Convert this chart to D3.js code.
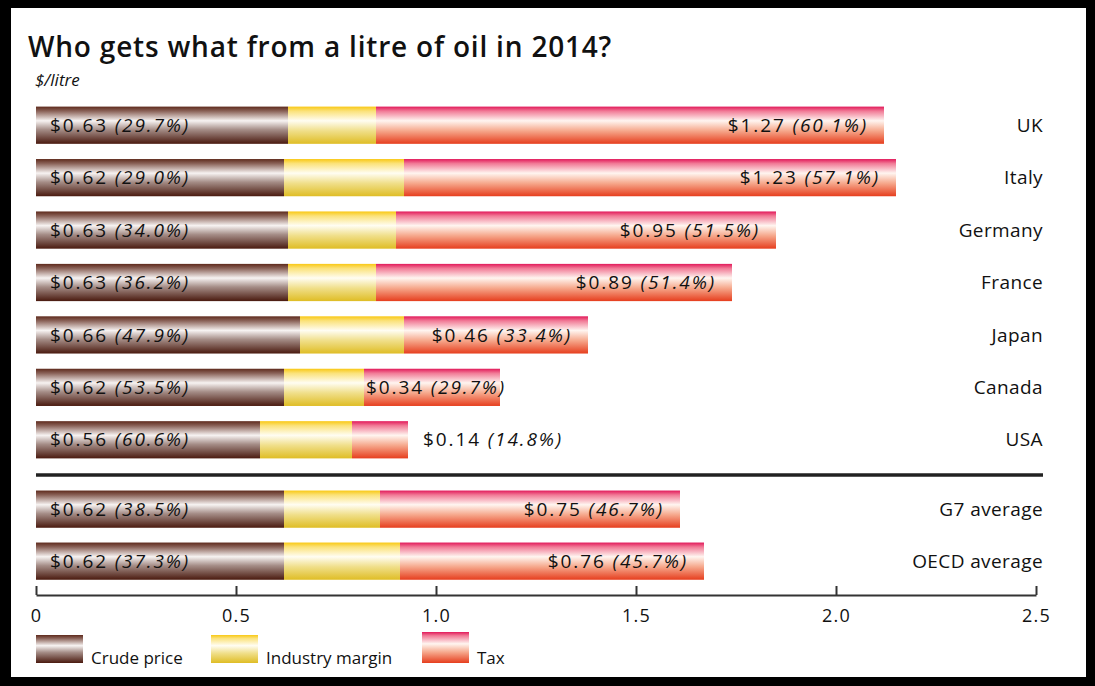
<!DOCTYPE html>
<html lang="en">
<head>
<meta charset="utf-8">
<title>Who gets what from a litre of oil in 2014?</title>
<script src="https://d3js.org/d3.v7.min.js"></script>
<style>
  body { margin: 0; background: #fff; }
  text { font-family: "Open Sans", sans-serif; fill: #111; }
  .title { font-size: 28px; font-weight: 600; letter-spacing: 0.8px; }
  .unit { font-size: 17px; font-style: italic; }
  .val { font-size: 19px; letter-spacing: 1.9px; }
  .country { font-size: 19px; letter-spacing: 0.4px; }
  .axis text { font-size: 18px; font-family: "Open Sans", sans-serif; fill: #111; letter-spacing: 1.2px; }
  .axis path, .axis line { stroke: #333; stroke-width: 2; }
  .legend text { font-size: 17px; }
</style>
</head>
<body>
<script>
// data - $ per litre, 2014
const countries = ["UK", "Italy", "Germany", "France", "Japan", "Canada", "USA"];
const averages = ["G7 average", "OECD average"];
const crude = [0.63, 0.62, 0.63, 0.63, 0.66, 0.62, 0.56, 0.62, 0.62];
const margin = [0.22, 0.30, 0.27, 0.22, 0.26, 0.20, 0.23, 0.24, 0.29];
const tax = [1.27, 1.23, 0.95, 0.89, 0.46, 0.34, 0.14, 0.75, 0.76];
const crudePct = ["29.7", "29.0", "34.0", "36.2", "47.9", "53.5", "60.6", "38.5", "37.3"];
const taxPct = ["60.1", "57.1", "51.5", "51.4", "33.4", "29.7", "14.8", "46.7", "45.7"];
const ticks = [0, 0.5, 1.0, 1.5, 2.0, 2.5];
const seriesNames = ["Crude price", "Industry margin", "Tax"];

const w = 1095, h = 686;
const names = countries.concat(averages);
const rows = names.map((n, i) => ({
  name: n, crude: crude[i], margin: margin[i], tax: tax[i],
  cp: crudePct[i], tp: taxPct[i], group: i < countries.length ? "top" : "avg"
}));

const svg = d3.select("body").append("svg").attr("width", w).attr("height", h);

// frame
svg.append("rect").attr("x", 0).attr("y", 0).attr("width", w).attr("height", h).attr("fill", "#000");
svg.append("rect").attr("x", 11).attr("y", 8).attr("width", 1075).attr("height", 669).attr("fill", "#fff");

// gradients
const defs = svg.append("defs");
const grads = {
  crude: [["0%", "#5e2a1c"], ["12%", "#8a6258"], ["38%", "#f7f3f2"], ["62%", "#a58d87"], ["100%", "#4a1a0f"]],
  margin: [["0%", "#f9c814"], ["12%", "#fbe27a"], ["38%", "#fffdf2"], ["65%", "#f0df8a"], ["100%", "#dfbd25"]],
  tax: [["0%", "#e2195a"], ["12%", "#f17a96"], ["38%", "#fff5f0"], ["65%", "#f6a88c"], ["100%", "#e63e1e"]]
};
Object.keys(grads).forEach(k => {
  const g = defs.append("linearGradient").attr("id", "g-" + k)
    .attr("x1", 0).attr("y1", 0).attr("x2", 0).attr("y2", 1);
  grads[k].forEach(s => g.append("stop").attr("offset", s[0]).attr("stop-color", s[1]));
});

// scales
const x = d3.scaleLinear().domain([0, 2.5]).range([36, 1036]);
const yTop = d3.scaleBand().domain(countries).range([99, 466]).paddingInner(0.29).paddingOuter(0.145);
const yAvg = d3.scaleBand().domain(averages).range([483, 587]).paddingInner(0.29).paddingOuter(0.145);
const yOf = d => d.group === "top" ? yTop(d.name) : yAvg(d.name);
const bh = yTop.bandwidth();

// title
svg.append("text").attr("class", "title").attr("x", 28).attr("y", 57)
  .text("Who gets what from a litre of oil in 2014?");
svg.append("text").attr("class", "unit").attr("x", 35).attr("y", 86).text("$/litre");

// bars
const g = svg.selectAll(".row").data(rows).enter().append("g").attr("class", "row");

g.append("rect").attr("x", x(0)).attr("y", yOf)
  .attr("width", d => x(d.crude) - x(0)).attr("height", bh).attr("fill", "url(#g-crude)");
g.append("rect").attr("x", d => x(d.crude)).attr("y", yOf)
  .attr("width", d => x(d.crude + d.margin) - x(d.crude)).attr("height", bh).attr("fill", "url(#g-margin)");
g.append("rect").attr("x", d => x(d.crude + d.margin)).attr("y", yOf)
  .attr("width", d => x(d.crude + d.margin + d.tax) - x(d.crude + d.margin)).attr("height", bh).attr("fill", "url(#g-tax)");

// crude labels
const cl = g.append("text").attr("class", "val").attr("x", 50)
  .attr("y", d => yOf(d) + bh / 2).attr("dy", "0.35em");
cl.append("tspan").text(d => "$" + d.crude.toFixed(2) + " ");
cl.append("tspan").attr("font-style", "italic").text(d => "(" + d.cp + "%)");

// tax labels - inside the bar, or just past its end when it does not fit
const tl = g.append("text").attr("class", "val")
  .attr("y", d => yOf(d) + bh / 2).attr("dy", "0.35em");
tl.append("tspan").text(d => "$" + d.tax.toFixed(2) + " ");
tl.append("tspan").attr("font-style", "italic").text(d => "(" + d.tp + "%)");
tl.each(function(d) {
  const t = d3.select(this);
  const tw = this.getComputedTextLength();
  const start = x(d.crude + d.margin), end = x(d.crude + d.margin + d.tax);
  if (end - start < tw - 10) {
    t.attr("x", end + 15);
  } else {
    t.attr("x", Math.max(start + 2, end - 16 - tw));
  }
});

// country names
g.append("text").attr("class", "country").attr("x", 1043).attr("text-anchor", "end")
  .attr("y", d => yOf(d) + bh / 2).attr("dy", "0.35em").text(d => d.name);

// separator
svg.append("line").attr("x1", 36).attr("x2", 1043).attr("y1", 475).attr("y2", 475)
  .attr("stroke", "#222").attr("stroke-width", 3.5);

// axis
const axis = d3.axisBottom(x).tickValues(ticks)
  .tickFormat(d => d === 0 ? "0" : d3.format(".1f")(d))
  .tickSizeInner(-9).tickSizeOuter(0).tickPadding(14);
svg.append("g").attr("class", "axis").attr("transform", "translate(0,595)").call(axis);

// legend
const legX = [36, 211, 422];
const legKeys = ["crude", "margin", "tax"];
const leg = svg.append("g").attr("class", "legend");
seriesNames.forEach((s, i) => {
  leg.append("rect").attr("x", legX[i]).attr("y", i === 2 ? 632 : 635)
    .attr("width", 47).attr("height", i === 2 ? 31 : 28).attr("fill", "url(#g-" + legKeys[i] + ")");
  leg.append("text").attr("x", legX[i] + 55).attr("y", 664).text(s);
});
</script>
</body>
</html>
